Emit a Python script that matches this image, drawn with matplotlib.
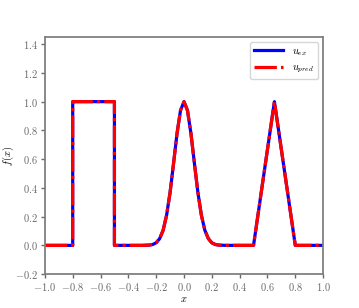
import numpy as np
import matplotlib
matplotlib.use("Agg")
import matplotlib.pyplot as plt

plt.rcParams['mathtext.fontset'] = 'cm'
plt.rcParams['font.family'] = 'serif'
plt.rcParams['font.serif'] = ['cmr10', 'DejaVu Serif']
plt.rcParams['axes.formatter.use_mathtext'] = True
plt.rcParams['font.size'] = 7.5

# Puntos (x, f(x))
x_pts = [-1.0, -0.8, -0.8, -0.5, -0.5, -0.3, -0.25, -0.225, -0.2, -0.175,
         -0.15, -0.125, -0.1, -0.075, -0.05, -0.025, 0.0, 0.025, 0.05, 0.075,
         0.1, 0.125, 0.15, 0.175, 0.2, 0.225, 0.25, 0.3, 0.5, 0.65, 0.8, 1.0]
u_ex = [0.0, 0.0, 1.0, 1.0, 0.0, 0.0, 0.002, 0.006, 0.018, 0.047,
        0.105, 0.21, 0.368, 0.57, 0.779, 0.939, 1.0, 0.939, 0.779, 0.57,
        0.368, 0.21, 0.105, 0.047, 0.018, 0.006, 0.002, 0.0, 0.0, 1.0, 0.0, 0.0]
u_pred = list(u_ex)

fig = plt.figure(figsize=(3.59, 3.08), dpi=100)
ax = fig.add_subplot(111)

ax.plot(x_pts, u_ex, color='blue', lw=2.3, label=r'$u_{ex}$')
ax.plot(x_pts, u_pred, color='red', lw=2.3, ls=(0, (7, 1.3, 1, 1.3)),
        label=r'$u_{pred}$')

ax.set_xlim(-1.0, 1.0)
ax.set_ylim(-0.2, 1.45)
ax.set_xticks(np.arange(-1.0, 1.01, 0.2))
ax.set_yticks(np.arange(-0.2, 1.41, 0.2))
ax.set_xlabel(r'$x$', labelpad=1)
ax.set_ylabel(r'$f(x)$', labelpad=-1)

for s in ax.spines.values():
    s.set_color('gray')
    s.set_linewidth(1.3)
ax.tick_params(colors='dimgray', length=3, width=1, pad=2)

ax.legend(loc='upper right', fontsize=7.5, handlelength=2.8)

fig.subplots_adjust(left=0.125, right=0.9, bottom=0.11, top=0.88)
plt.savefig('out.png', dpi=100)
